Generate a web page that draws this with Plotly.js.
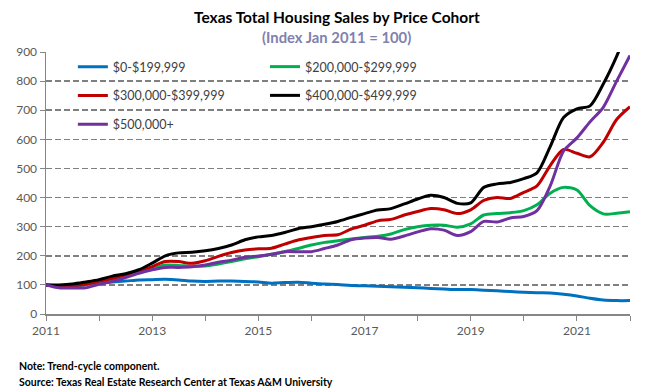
<!DOCTYPE html>
<html>
<head>
<meta charset="utf-8">
<script src="https://cdn.plot.ly/plotly-3.0.1.min.js"></script>
<style>html,body{margin:0;padding:0;background:#fff;}#chart{width:650px;height:392px;}</style>
</head>
<body>
<div id="chart"></div>
<script>
const quarters = ["2011-01-01","2011-04-01","2011-07-01","2011-10-01",
"2012-01-01","2012-04-01","2012-07-01","2012-10-01",
"2013-01-01","2013-04-01","2013-07-01","2013-10-01",
"2014-01-01","2014-04-01","2014-07-01","2014-10-01",
"2015-01-01","2015-04-01","2015-07-01","2015-10-01",
"2016-01-01","2016-04-01","2016-07-01","2016-10-01",
"2017-01-01","2017-04-01","2017-07-01","2017-10-01",
"2018-01-01","2018-04-01","2018-07-01","2018-10-01",
"2019-01-01","2019-04-01","2019-07-01","2019-10-01",
"2020-01-01","2020-04-01","2020-07-01","2020-10-01",
"2021-01-01","2021-04-01","2021-07-01","2021-10-01",
"2022-01-01"];

const seriesNames = ["$0-$199,999","$200,000-$299,999","$300,000-$399,999","$400,000-$499,999","$500,000+"];

const cohort0_199 = [100,98,98,102,106,110,113,117,118,119,117,113,112,113,113,112,110,106,108,109,106,103,101,98,97,95,94,92,90,88,86,84,84,82,80,77,75,73,72,68,62,54,48,46,46];
const cohort200_299 = [100,95,95,100,110,120,130,142,155,168,167,164,165,172,180,190,197,205,214,225,237,246,252,258,263,267,275,290,300,305,305,298,310,340,345,348,355,375,415,435,426,372,344,346,351];
const cohort300_399 = [100,95,96,102,112,122,135,148,163,180,180,174,183,198,211,220,224,226,240,254,263,270,272,292,305,320,325,340,352,362,358,345,358,390,400,397,418,440,510,565,552,540,590,668,712];
const cohort400_499 = [100,100,103,110,118,130,138,152,175,200,210,212,217,225,237,255,265,270,280,293,300,308,318,332,345,357,362,378,395,408,400,380,382,435,447,452,465,485,575,675,705,715,790,885,1000];
const cohort500plus = [100,90,89,90,102,112,125,140,152,160,160,162,168,178,185,195,199,205,214,214,214,225,237,255,261,263,257,268,282,293,288,270,283,318,316,330,335,355,440,560,605,660,710,800,888];

const titleText = "Texas Total Housing Sales by Price Cohort";
const subtitleText = "(Index Jan 2011 = 100)";
const noteText = "Note: Trend-cycle component.";
const sourceText = "Source: Texas Real Estate Research Center at Texas A&M University";

const colors = ["#0070C0","#00B050","#C00000","#000000","#7030A0"];
const values = [cohort0_199, cohort200_299, cohort300_399, cohort400_499, cohort500plus];
const legendOf = ["legend","legend2","legend","legend2","legend"];

const traces = values.map((v,i)=>({
  x: quarters, y: v, name: seriesNames[i], type: 'scatter', mode: 'lines',
  line: {color: colors[i], width: 3, shape: 'spline', smoothing: 0.8},
  legend: legendOf[i], legendgroup: 'g'+i, hoverinfo: 'skip'
}));

const fontFam = "Lato, 'Open Sans', sans-serif";
const layout = {
  width: 650, height: 392,
  margin: {l: 46, r: 20, t: 52, b: 78},
  paper_bgcolor: '#fff', plot_bgcolor: '#fff',
  font: {family: fontFam, size: 12, color: '#404040'},
  xaxis: {
    type: 'date', range: ['2011-01-01','2022-01-01'],
    tick0: '2011-01-01', dtick: 'M24', tickformat: '%Y',
    ticks: 'outside', ticklen: 5, tickcolor: '#868686', tickwidth: 1,
    showline: true, linecolor: '#868686', linewidth: 1.5,
    showgrid: false, zeroline: false,
    tickfont: {size: 12, color: '#595959'},
    minor: {dtick: 'M12', ticks: 'outside', ticklen: 5, tickcolor: '#868686', showgrid: false}
  },
  yaxis: {
    range: [0, 900], dtick: 100, tick0: 0,
    ticks: 'outside', ticklen: 5, tickcolor: '#868686',
    showline: true, linecolor: '#868686', linewidth: 1.5,
    showgrid: true, gridcolor: '#808080', gridwidth: 1.5, griddash: '6px,3px',
    zeroline: false,
    tickfont: {size: 12, color: '#595959'}
  },
  showlegend: true,
  legend: {x: 0.046, xanchor: 'left', y: 1.0, yanchor: 'top', orientation: 'v',
    bgcolor: 'rgba(0,0,0,0)', font: {size: 12.5, color: '#404040'}, tracegroupgap: 9.5, itemwidth: 30},
  legend2: {x: 0.375, xanchor: 'left', y: 1.0, yanchor: 'top', orientation: 'v',
    bgcolor: 'rgba(0,0,0,0)', font: {size: 12.5, color: '#404040'}, tracegroupgap: 9.5, itemwidth: 30},
  annotations: [
    {text: "<b>" + titleText + "</b>", xref: 'paper', yref: 'paper', x: 0.498, xanchor: 'center',
     y: 1.134, yanchor: 'middle', showarrow: false, font: {size: 15.5, color: '#000'}},
    {text: "<b>" + subtitleText + "</b>", xref: 'paper', yref: 'paper', x: 0.498, xanchor: 'center',
     y: 1.057, yanchor: 'middle', showarrow: false, font: {size: 14.8, color: '#8081AE'}},
    {text: "<b>" + noteText + "</b>", xref: 'paper', yref: 'paper', x: -0.05, xanchor: 'left',
     y: -0.2, yanchor: 'middle', showarrow: false, font: {size: 10.5, color: '#000'}},
    {text: "<b>" + sourceText + "</b>", xref: 'paper', yref: 'paper', x: -0.05, xanchor: 'left',
     y: -0.258, yanchor: 'middle', showarrow: false, font: {size: 10.5, color: '#000'}}
  ]
};

Plotly.newPlot('chart', traces, layout, {displayModeBar: false, staticPlot: true});
</script>
</body>
</html>
